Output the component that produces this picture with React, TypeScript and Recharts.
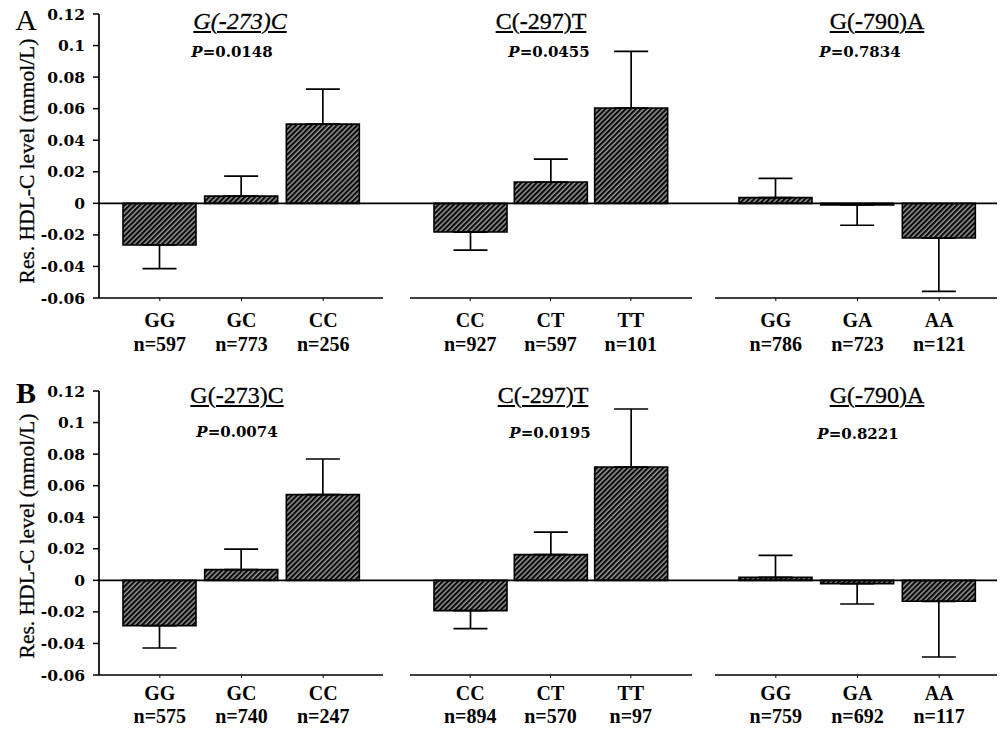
import React from 'react';
import { BarChart, Bar, XAxis, YAxis, ReferenceLine, ErrorBar } from 'recharts';

// ---------- data ----------
const snpTitles = ['G(-273)C', 'C(-297)T', 'G(-790)A'];
const genotypes = [
  ['GG', 'GC', 'CC'],
  ['CC', 'CT', 'TT'],
  ['GG', 'GA', 'AA'],
];
const yTicks = [-0.06, -0.04, -0.02, 0, 0.02, 0.04, 0.06, 0.08, 0.1, 0.12];

const nA = [[597, 773, 256], [927, 597, 101], [786, 723, 121]];
const meanA = [[-0.0264, 0.0046, 0.0502], [-0.0182, 0.0135, 0.0604], [0.0036, -0.001, -0.022]];
const seA = [[0.015, 0.0127, 0.0222], [0.0114, 0.0145, 0.0359], [0.0122, 0.0129, 0.0338]];
const pA = ['0.0148', '0.0455', '0.7834'];

const nB = [[575, 740, 247], [894, 570, 97], [759, 692, 117]];
const meanB = [[-0.0287, 0.0068, 0.0543], [-0.0192, 0.0163, 0.0718], [0.0019, -0.0021, -0.0133]];
const seB = [[0.0142, 0.013, 0.0226], [0.0114, 0.0143, 0.0368], [0.0139, 0.0129, 0.0353]];
const pB = ['0.0074', '0.0195', '0.8221'];

// ---------- helpers ----------
type Row = { g: string; n: number; v: number; err: [number, number] };
const buildRows = (gi: number, n: number[][], m: number[][], s: number[][]): Row[] =>
  genotypes[gi].map((g, i) => ({
    g,
    n: n[gi][i],
    v: m[gi][i],
    err: m[gi][i] >= 0 ? [0, s[gi][i]] : [s[gi][i], 0],
  }));

const SERIF = '"Liberation Serif", "Times New Roman", serif';
const WIDE = '"DejaVu Serif", serif';

// layout of the three sub-charts in a panel (page coordinates)
const groupLayout = [
  { left: 0, width: 410, yW: 99, pad: { left: 20, right: 46 }, dash: '284 1000' },
  { left: 410, width: 305, yW: 0, pad: { left: 20, right: 44 }, dash: '282 1000' },
  { left: 715, width: 282, yW: 0, pad: { left: 20, right: 17 }, dash: undefined },
];

const fmt = (v: number) => String(parseFloat(v.toFixed(2)));

function SubChart({ rows, gi, top, marginTop, dy1, dy2, id }: { rows: Row[]; gi: number; top: number; marginTop: number; dy1: number; dy2: number; id: string }) {
  const L = groupLayout[gi];
  const plotH = 284;
  const axisH = 60;
  const tick = (props: any) => {
    const { x, y, payload } = props;
    const idx = payload && payload.index != null ? payload.index : props.index;
    const r = rows[idx];
    if (!r) return null;
    return (
      <g>
        <text x={x} y={y} dy={dy1} textAnchor="middle" fontFamily={SERIF} fontWeight="bold" fontSize={20} fill="#000">{r.g}</text>
        <text x={x} y={y} dy={dy2} textAnchor="middle" fontFamily={SERIF} fontWeight="bold" fontSize={20} fill="#000">{`n=${r.n}`}</text>
      </g>
    );
  };
  return (
    <div style={{ position: 'absolute', left: L.left, top, width: L.width, height: marginTop + plotH + axisH }}>
      <BarChart width={L.width} height={marginTop + plotH + axisH} data={rows} margin={{ top: marginTop, right: 0, bottom: 0, left: 0 }} barCategoryGap={0}>
        <defs>
          <pattern id={id} patternUnits="userSpaceOnUse" width="3.6" height="3.6" patternTransform="rotate(45)">
            <rect x="0" y="0" width="3.6" height="3.6" fill="#0a0a0a" />
            <line x1="1" y1="0" x2="1" y2="3.6" stroke="#ffffff" strokeWidth="0.85" />
          </pattern>
        </defs>
        <XAxis
          dataKey="g"
          interval={0}
          padding={L.pad}
          height={axisH}
          axisLine={{ stroke: '#000', strokeWidth: 1.7, strokeDasharray: L.dash }}
          tickLine={{ stroke: '#000', strokeWidth: 1 }}
          tickSize={3}
          tickMargin={0}
          tick={tick}
        />
        <YAxis
          hide={gi !== 0}
          width={L.yW || 60}
          domain={[-0.06, 0.12]}
          ticks={yTicks}
          interval={0}
          tickFormatter={fmt}
          axisLine={{ stroke: '#000', strokeWidth: 1.7 }}
          tickLine={{ stroke: '#000', strokeWidth: 1.5 }}
          tickSize={6}
          tickMargin={8}
          tick={{ fontFamily: WIDE, fontWeight: 'bold', fontSize: 15.5, fill: '#000' }}
        />
        <Bar dataKey="v" fill={`url(#${id})`} stroke="#000" strokeWidth={1.6} barSize={73} isAnimationActive={false}>
          <ErrorBar dataKey="err" direction="y" width={17} stroke="#000" strokeWidth={1.7} />
        </Bar>
        <ReferenceLine y={0} stroke="#000" strokeWidth={1.7} />
      </BarChart>
    </div>
  );
}

type TextPos = { x: number; y: number };
const Abs = ({ x, y, style, children }: { x: number; y: number; style?: React.CSSProperties; children: React.ReactNode }) => (
  <div style={{ position: 'absolute', left: x, top: y, transform: 'translate(-50%, -50%)', whiteSpace: 'nowrap', lineHeight: 1, color: '#000', ...style }}>{children}</div>
);

function Panel({ letter, top, marginTop, n, m, s, p, titlePos, pPos, labelPos, letterPos, dy1, dy2, italicFirst, letterBold }: any) {
  return (
    <>
      {[0, 1, 2].map((gi) => (
        <SubChart key={gi} rows={buildRows(gi, n, m, s)} gi={gi} top={top} marginTop={marginTop} dy1={dy1} dy2={dy2} id={`hatch-${letter}-${gi}`} />
      ))}
      <Abs x={letterPos.x} y={letterPos.y} style={{ fontFamily: SERIF, fontSize: 30, fontWeight: letterBold ? 'bold' : 'normal' }}>{letter}</Abs>
      <Abs x={labelPos.x} y={labelPos.y} style={{ fontFamily: SERIF, fontSize: 21.5, transform: 'translate(-50%, -50%) rotate(-90deg)', WebkitTextStroke: '0.3px #000' }}>Res. HDL-C level (mmol/L)</Abs>
      {snpTitles.map((t, gi) => (
        <Abs key={`t${gi}`} x={(titlePos as TextPos[])[gi].x} y={(titlePos as TextPos[])[gi].y} style={{ fontFamily: SERIF, fontSize: 24, textDecoration: 'underline', textDecorationThickness: '1.5px', textUnderlineOffset: '2px', fontStyle: italicFirst && gi === 0 ? 'italic' : 'normal', WebkitTextStroke: '0.3px #000' }}>{t}</Abs>
      ))}
      {p.map((pv: string, gi: number) => (
        <Abs key={`p${gi}`} x={(pPos as TextPos[])[gi].x} y={(pPos as TextPos[])[gi].y} style={{ fontFamily: WIDE, fontSize: 15, fontWeight: 'bold' }}>
          <span style={{ fontStyle: 'italic' }}>P</span>={pv}
        </Abs>
      ))}
    </>
  );
}

export default function App() {
  return (
    <div style={{ position: 'absolute', left: 0, top: 0, width: 1004, height: 729, background: '#fff', overflow: 'hidden' }}>
      <Panel
        letter="A"
        top={0}
        marginTop={14}
        n={nA}
        m={meanA}
        s={seA}
        p={pA}
        titlePos={[{ x: 240, y: 21 }, { x: 541, y: 21 }, { x: 877, y: 21 }]}
        pPos={[{ x: 232, y: 52 }, { x: 549, y: 52 }, { x: 860, y: 52 }]}
        labelPos={{ x: 28, y: 161 }}
        letterPos={{ x: 26, y: 20 }}
        dy1={26}
        dy2={50}
        italicFirst
        letterBold={false}
      />
      <Panel
        letter="B"
        top={376}
        marginTop={15}
        n={nB}
        m={meanB}
        s={seB}
        p={pB}
        titlePos={[{ x: 237, y: 395 }, { x: 543, y: 395 }, { x: 877, y: 395 }]}
        pPos={[{ x: 237, y: 432 }, { x: 550, y: 433 }, { x: 858, y: 434 }]}
        labelPos={{ x: 28, y: 536 }}
        letterPos={{ x: 26, y: 393 }}
        dy1={22}
        dy2={45}
        italicFirst={false}
        letterBold
      />
    </div>
  );
}
